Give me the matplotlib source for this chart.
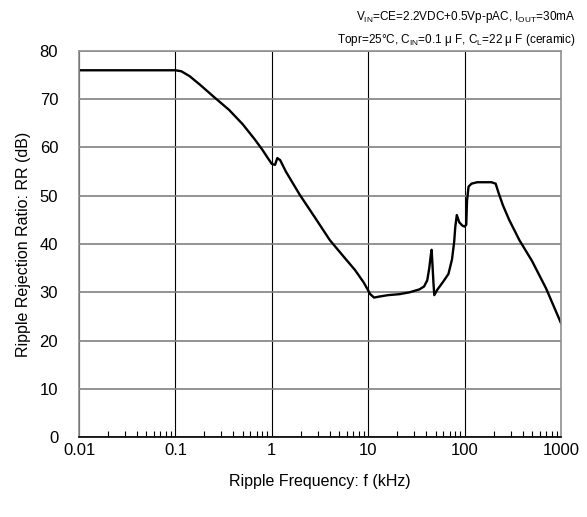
import numpy as np
import matplotlib.pyplot as plt
from matplotlib.ticker import LogLocator, FixedLocator, NullFormatter

plt.rcParams['font.family'] = ['Liberation Sans', 'DejaVu Sans']
plt.rcParams['mathtext.default'] = 'regular'

# data
freq_khz = [0.01, 0.05, 0.1, 0.115, 0.14, 0.18, 0.25, 0.36, 0.5, 0.67, 0.8, 0.91, 1.0,
            1.08, 1.14, 1.22, 1.4, 1.95, 2.8, 4.0, 5.5, 7.3, 9.0, 10.5, 11.5, 13, 16,
            21, 27, 34, 38, 41, 43, 44.5, 45.5, 46.5, 47.5, 48.5, 52, 60, 68, 74, 78,
            80, 83, 88, 95, 100, 104, 106, 110, 118, 135, 160, 190, 210, 225, 250, 290,
            370, 500, 700, 1000]
rr_db = [76, 76, 76, 75.8, 74.8, 73, 70.5, 67.8, 64.8, 61.6, 59.5, 57.8, 56.6,
         56.4, 57.8, 57.4, 55.0, 50.2, 45.5, 40.8, 37.5, 34.6, 32.0, 29.6, 28.9, 29.1, 29.4,
         29.6, 30.0, 30.6, 31.2, 32.5, 35, 37.5, 38.8, 35.5, 32, 29.4, 30.5, 32.2, 33.8, 36.8, 40.5,
         43.5, 46.0, 44.5, 43.8, 43.6, 44.0, 49, 51.9, 52.5, 52.8, 52.8, 52.8, 52.5, 50.6, 48, 45,
         40.8, 36.5, 30.8, 23.6]

header1 = '$V_{IN}$=CE=2.2VDC+0.5Vp-pAC, $I_{OUT}$=30mA'
header2 = 'Topr=25\u00b0C, $C_{IN}$=0.1 \u03bc F, $C_{L}$=22 \u03bc F (ceramic)'

fig = plt.figure(figsize=(5.87, 5.17), dpi=100)
ax = fig.add_axes([0.1346, 0.1547, 0.8211, 0.7467])

ax.plot(freq_khz, rr_db, color='black', lw=1.7)

ax.set_xscale('log')
ax.set_xlim(0.01, 1000)
ax.set_ylim(0, 80)
ax.set_yticks(np.arange(0, 81, 10))
ax.xaxis.set_major_locator(FixedLocator([0.01, 0.1, 1, 10, 100, 1000]))
ax.set_xticklabels(['0.01', '0.1', '1', '10', '100', '1000'])
ax.xaxis.set_minor_locator(LogLocator(base=10, subs=np.arange(2, 10)))
ax.xaxis.set_minor_formatter(NullFormatter())

ax.grid(axis='x', which='major', color='black', lw=0.8)
ax.grid(axis='y', which='major', color='#808080', lw=1.2)

ax.tick_params(axis='y', which='major', length=0, labelsize=12, pad=15)
ax.tick_params(axis='x', which='major', length=0, labelsize=12, pad=4)
ax.tick_params(axis='x', which='minor', direction='in', length=4, width=0.8, bottom=True)

for s in ['left', 'top', 'right']:
    ax.spines[s].set_color('#909090')
    ax.spines[s].set_linewidth(1.2)
ax.spines['bottom'].set_color('black')
ax.spines['bottom'].set_linewidth(1.2)

ax.set_xlabel('Ripple Frequency: f (kHz)', fontsize=11.5, labelpad=12)
ax.set_ylabel('Ripple Rejection Ratio: RR (dB)', fontsize=11.5, labelpad=6)

fig.text(0.98, 0.967, header1, ha='right', va='center', fontsize=8.5)
fig.text(0.98, 0.923, header2, ha='right', va='center', fontsize=8.5)

fig.savefig('out.png', dpi=100)
